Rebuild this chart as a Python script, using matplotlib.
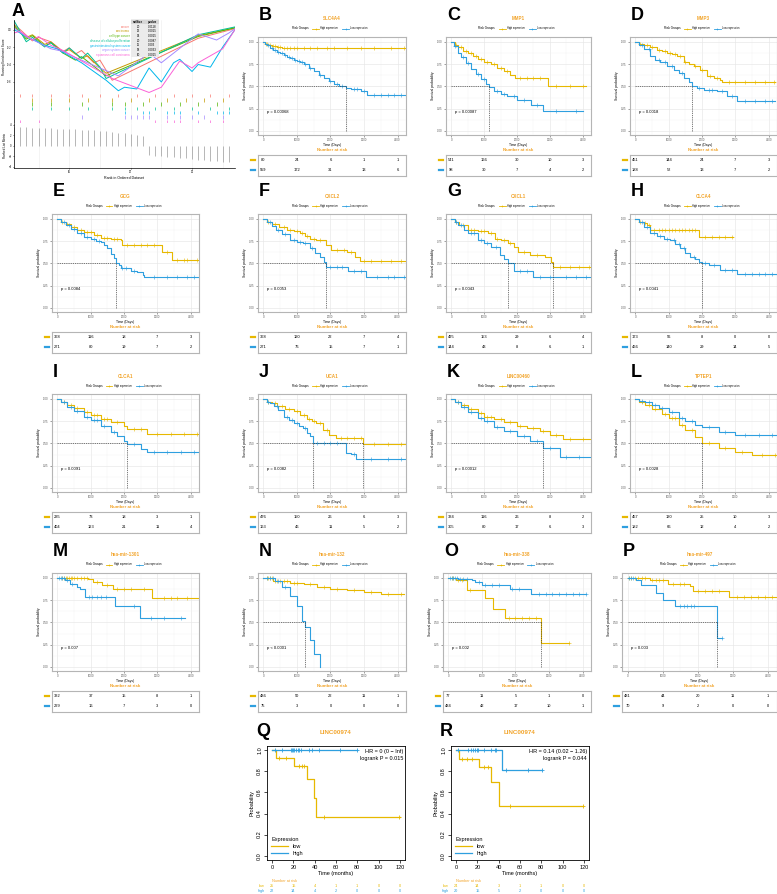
import numpy as np
import matplotlib
matplotlib.use('Agg')
import matplotlib.pyplot as plt
from matplotlib.lines import Line2D
from matplotlib.patches import Rectangle

plt.rcParams['font.family'] = ['Liberation Sans', 'DejaVu Sans']

W, H = 777, 894
HI_COL = '#E7B800'
LO_COL = '#2E9FDF'
TITLE_COL = '#F2A42A'
RISK_T = [0, 1000, 2000, 3000, 4000]

# ---------------- panel A data (GSEA) ----------------
SET_NAMES = ['cancer', 'carcinoma', 'cell type cancer', 'disease of cellular proliferation',
             'gastrointestinal system cancer', 'organ system cancer', 'squamous cell carcinoma']
SET_COLORS = ['#F8766D', '#C49A00', '#53B400', '#00C094', '#00B6EB', '#A58AFF', '#FB61D7']
SET_SIZE = [20, 13, 14, 20, 11, 18, 10]
SET_PVAL = ['0.0118', '0.0015', '0.0015', '0.0087', '0.003', '0.0033', '0.0015']

ES_RANK = [
    [1, 2, 4, 5, 7, 9, 10, 11, 12, 14, 15, 17, 31, 37],
    [1, 3, 4, 6, 7, 9, 10, 12, 13, 15, 16, 31, 37],
    [1, 3, 4, 6, 7, 9, 11, 12, 14, 16, 31, 37],
    [1, 3, 4, 6, 7, 9, 10, 12, 13, 15, 16, 31, 37],
    [1, 3, 6, 8, 10, 12, 14, 16, 18, 19, 21, 23, 25, 27, 28, 30, 31, 33, 35, 37],
    [1, 3, 5, 7, 9, 11, 13, 15, 18, 23, 25, 31, 34, 36, 37],
    [1, 2, 4, 5, 7, 9, 11, 13, 15, 17, 20, 23, 25, 28, 30, 31, 33, 35, 37],
]
ES_VAL = [
    [0.06, 0.0, -0.13, -0.09, -0.14, -0.25, -0.21, -0.28, -0.24, -0.38, -0.35, -0.58, -0.10, 0.01],
    [0.03, -0.09, -0.06, -0.17, -0.14, -0.26, -0.23, -0.33, -0.30, -0.44, -0.50, -0.07, 0.02],
    [0.05, -0.11, -0.07, -0.19, -0.15, -0.27, -0.35, -0.31, -0.42, -0.53, -0.08, 0.02],
    [0.10, -0.14, -0.09, -0.20, -0.15, -0.27, -0.21, -0.33, -0.27, -0.43, -0.56, -0.06, 0.03],
    [0.0, -0.08, -0.18, -0.22, -0.30, -0.38, -0.48, -0.58, -0.70, -0.66, -0.68, -0.44, -0.60,
     -0.38, -0.34, -0.48, -0.40, -0.43, -0.20, 0.0],
    [0.02, -0.08, -0.15, -0.22, -0.25, -0.32, -0.38, -0.44, -0.53, -0.27, -0.38, -0.05, -0.12, -0.04, 0.01],
    [-0.04, -0.02, -0.12, -0.08, -0.18, -0.24, -0.32, -0.40, -0.48, -0.56, -0.64, -0.72, -0.66,
     -0.36, -0.44, -0.38, -0.30, -0.22, 0.0],
]
HITS = [
    [2, 4, 7, 10, 12, 15, 18, 21, 24, 27, 30, 33, 36],
    [4, 7, 10, 13, 17, 20, 23, 26, 29, 32, 35],
    [4, 7, 12, 17, 19, 22, 25, 28, 31, 34, 37],
    [4, 7, 10, 13, 17, 19, 21, 24, 27, 30, 33, 36],
    [19, 22, 23, 26, 27, 28, 31, 34, 35, 36],
    [12, 19, 20, 21, 22, 23, 26, 28, 30, 32, 35, 37],
    [2, 5, 24, 26, 27, 28, 31, 33, 35, 37],
]
RANKS = list(range(1, 38))
RANK_METRIC = [3.6, 3.5, 3.5, 3.4, 3.4, 3.3, 3.3, 3.2, 3.2, 3.1, 3.1, 3.0, 3.0, 2.9, 2.8, 2.7,
               2.6, 2.5, 2.4, 2.3, 2.1, 1.9, -1.8, -1.9, -2.0, -2.1, -2.2, -2.3, -2.4, -2.5,
               -2.6, -2.7, -2.8, -2.9, -3.0, -3.1, -3.2]

# ---------------- KM panels data ----------------
B_HI_T = [0, 60, 150, 250, 400, 550, 4300]
B_HI_S = [1.0, 0.98, 0.965, 0.955, 0.945, 0.935, 0.935]
B_HI_C = [80, 120, 200, 300, 350, 450, 500, 600, 700, 800, 900, 1000, 1200, 1400, 1600, 1900,
          2100, 2500, 2900, 3300, 3800, 4200]
B_LO_T = [0, 50, 120, 200, 300, 400, 500, 600, 700, 800, 900, 1000, 1100, 1200, 1350, 1500,
          1650, 1800, 1950, 2100, 2250, 2450, 2600, 2900, 3100, 4300]
B_LO_S = [1.0, 0.98, 0.96, 0.935, 0.91, 0.89, 0.87, 0.85, 0.83, 0.815, 0.80, 0.785, 0.77, 0.75,
          0.71, 0.67, 0.63, 0.59, 0.56, 0.53, 0.51, 0.48, 0.47, 0.45, 0.40, 0.40]
B_LO_C = [150, 250, 350, 450, 550, 650, 750, 850, 950, 1050, 1150, 1250, 1400, 1700, 2000, 2200,
          2350, 2700, 2800, 3000, 3300, 3500, 3700, 3900, 4100]

C_HI_T = [0, 100, 200, 350, 500, 650, 800, 1000, 1200, 1400, 1600, 1800, 1950, 2950, 4100]
C_HI_S = [1.0, 0.97, 0.94, 0.90, 0.87, 0.84, 0.81, 0.78, 0.75, 0.71, 0.67, 0.63, 0.60, 0.51, 0.51]
C_HI_C = [150, 300, 450, 600, 750, 900, 1100, 1300, 1500, 1700, 2100, 2300, 2500, 2700, 3200, 3600, 4000]
C_LO_T = [0, 80, 200, 300, 450, 600, 750, 900, 1050, 1150, 1300, 1500, 1700, 2000, 2420, 2780, 4000]
C_LO_S = [1.0, 0.95, 0.88, 0.83, 0.76, 0.70, 0.64, 0.58, 0.53, 0.49, 0.45, 0.42, 0.39, 0.35,
          0.29, 0.22, 0.22]
C_LO_C = [120, 350, 500, 800, 1000, 1400, 1600, 1900, 2200, 2600, 3200, 3800]

D_HI_T = [0, 100, 250, 450, 650, 800, 950, 1100, 1250, 1450, 1600, 1750, 1950, 2150, 2350, 2550, 2600, 4200]
D_HI_S = [1.0, 0.975, 0.96, 0.94, 0.91, 0.895, 0.88, 0.86, 0.84, 0.78, 0.755, 0.73, 0.68, 0.62,
          0.59, 0.57, 0.55, 0.55]
D_HI_C = [150, 350, 500, 700, 900, 1050, 1200, 1350, 1500, 1800, 2000, 2250, 2450, 2800, 3000,
          3300, 3600, 3900, 4150]
D_LO_T = [0, 100, 250, 450, 600, 750, 950, 1150, 1300, 1450, 1600, 1700, 1850, 2050, 2450, 2750, 3050, 4200]
D_LO_S = [1.0, 0.96, 0.92, 0.84, 0.80, 0.77, 0.73, 0.69, 0.65, 0.60, 0.55, 0.50, 0.48, 0.46,
          0.45, 0.39, 0.34, 0.34]
D_LO_C = [200, 400, 700, 900, 1100, 1400, 1900, 2200, 2300, 2600, 2900, 3300, 3600, 3900, 4100]

E_HI_T = [0, 100, 250, 400, 590, 800, 1100, 1300, 1600, 1900, 1950, 3130, 3430, 4300]
E_HI_S = [1.0, 0.97, 0.94, 0.91, 0.88, 0.85, 0.82, 0.79, 0.78, 0.76, 0.71, 0.63, 0.54, 0.54]
E_HI_C = [150, 300, 500, 700, 900, 1000, 1200, 1400, 1500, 1700, 1800, 2100, 2300, 2500, 2700,
          2900, 3300, 3600, 3800, 3900, 4200]
E_LO_T = [0, 100, 250, 400, 590, 800, 1000, 1150, 1300, 1400, 1500, 1600, 1700, 1750, 1850,
          1900, 2200, 2400, 2570, 2600, 4300]
E_LO_S = [1.0, 0.97, 0.93, 0.89, 0.84, 0.80, 0.77, 0.755, 0.74, 0.71, 0.67, 0.61, 0.56, 0.50,
          0.48, 0.45, 0.42, 0.40, 0.37, 0.35, 0.35]
E_LO_C = [200, 350, 500, 700, 900, 1100, 1250, 1950, 2050, 2300, 2900, 3300, 3600, 3900, 4100]

F_HI_T = [0, 100, 250, 480, 700, 900, 1080, 1250, 1380, 1580, 1880, 2030, 2480, 2730, 2880, 4300]
F_HI_S = [1.0, 0.97, 0.94, 0.91, 0.88, 0.86, 0.84, 0.81, 0.78, 0.76, 0.71, 0.65, 0.63, 0.575, 0.53, 0.53]
F_HI_C = [150, 350, 600, 800, 1000, 1150, 1300, 1500, 1700, 2200, 2400, 2600, 3000, 3200, 3500, 3800, 4100]
F_LO_T = [0, 100, 250, 380, 550, 780, 1000, 1180, 1380, 1550, 1680, 1800, 1880, 2530, 3060, 4300]
F_LO_S = [1.0, 0.96, 0.92, 0.88, 0.83, 0.76, 0.745, 0.73, 0.67, 0.62, 0.575, 0.52, 0.46, 0.42, 0.35, 0.35]
F_LO_C = [200, 450, 650, 900, 1100, 1250, 1450, 2000, 2200, 2350, 2700, 2900, 3400, 3700, 3900, 4200]

G_HI_T = [0, 100, 250, 520, 800, 1120, 1320, 1500, 1720, 1900, 2040, 2400, 2840, 3040, 3080, 4260]
G_HI_S = [1.0, 0.97, 0.93, 0.88, 0.86, 0.84, 0.78, 0.76, 0.73, 0.68, 0.63, 0.60, 0.57, 0.52, 0.455, 0.455]
G_HI_C = [150, 350, 600, 700, 900, 1000, 1200, 1400, 1600, 1800, 2200, 2600, 3300, 3600, 3900, 4200]
G_LO_T = [0, 100, 220, 400, 520, 820, 1000, 1220, 1470, 1600, 1720, 1920, 2490, 4260]
G_LO_S = [1.0, 0.96, 0.93, 0.88, 0.84, 0.76, 0.73, 0.69, 0.59, 0.55, 0.50, 0.42, 0.35, 0.35]
G_LO_C = [150, 300, 600, 700, 900, 1100, 1350, 2100, 2300, 2700, 3000, 3500, 3800, 4100]

H_HI_T = [0, 100, 250, 350, 450, 650, 1900, 2930]
H_HI_S = [1.0, 0.97, 0.95, 0.93, 0.88, 0.87, 0.80, 0.80]
H_HI_C = [150, 300, 400, 550, 700, 800, 900, 1000, 1100, 1200, 1300, 1400, 1500, 1600, 1700,
          1800, 2100, 2300, 2500, 2700, 2900]
H_LO_T = [0, 100, 250, 450, 650, 850, 1050, 1200, 1350, 1500, 1650, 1800, 1900, 2000, 2200,
          2550, 3050, 4300]
H_LO_S = [1.0, 0.96, 0.91, 0.84, 0.81, 0.78, 0.76, 0.72, 0.67, 0.62, 0.575, 0.545, 0.52, 0.50,
          0.48, 0.43, 0.38, 0.38]
H_LO_C = [200, 350, 550, 750, 950, 1150, 1300, 1450, 1750, 2100, 2350, 2700, 2900, 3300, 3500,
          3700, 3900, 4100]

I_HI_T = [0, 100, 300, 500, 800, 1000, 1300, 1600, 2000, 2100, 2700, 4300]
I_HI_S = [1.0, 0.97, 0.93, 0.90, 0.85, 0.82, 0.78, 0.74, 0.70, 0.66, 0.61, 0.61]
I_HI_C = [200, 400, 600, 900, 1100, 1200, 1400, 1500, 1800, 2300, 2500, 3000, 3400, 3800, 4200]
I_LO_T = [0, 100, 300, 500, 800, 1000, 1300, 1600, 1800, 2000, 2100, 2500, 2700, 4300]
I_LO_S = [1.0, 0.96, 0.91, 0.86, 0.80, 0.76, 0.70, 0.63, 0.58, 0.53, 0.49, 0.44, 0.40, 0.40]
I_LO_C = [200, 400, 600, 900, 1100, 1200, 1400, 1700, 2300, 2900, 3300, 3700, 4100]

J_HI_T = [0, 100, 250, 420, 650, 900, 1100, 1290, 1450, 1580, 1780, 1970, 2160, 2960, 4300]
J_HI_S = [1.0, 0.97, 0.95, 0.92, 0.89, 0.86, 0.82, 0.78, 0.755, 0.73, 0.65, 0.60, 0.56, 0.495, 0.495]
J_HI_C = [150, 350, 550, 750, 1000, 1200, 1350, 1500, 1700, 1900, 2300, 2500, 2700, 2900, 3300,
          3700, 4100]
J_LO_T = [0, 100, 200, 320, 450, 610, 750, 900, 1050, 1190, 1300, 1390, 1470, 2460, 2600, 2770, 4300]
J_LO_S = [1.0, 0.97, 0.95, 0.92, 0.87, 0.80, 0.76, 0.73, 0.70, 0.67, 0.62, 0.58, 0.50, 0.39,
          0.38, 0.32, 0.32]
J_LO_C = [150, 400, 700, 850, 1000, 1250, 1600, 1800, 2000, 2200, 2700, 3200, 3700, 4100]

K_HI_T = [0, 100, 300, 500, 800, 1000, 1300, 1600, 2000, 2300, 2700, 3000, 3400, 4300]
K_HI_S = [1.0, 0.97, 0.93, 0.89, 0.84, 0.80, 0.77, 0.74, 0.70, 0.67, 0.64, 0.60, 0.55, 0.55]
K_HI_C = [200, 400, 600, 900, 1100, 1200, 1500, 1800, 2100, 2500, 2800, 3200, 3600, 4000]
K_LO_T = [0, 100, 300, 500, 800, 1000, 1300, 1600, 2000, 2400, 2800, 3300, 4300]
K_LO_S = [1.0, 0.96, 0.91, 0.85, 0.79, 0.75, 0.69, 0.64, 0.58, 0.53, 0.45, 0.35, 0.35]
K_LO_C = [200, 400, 600, 900, 1100, 1400, 1800, 2200, 2600, 3000, 3500, 3900]

L_HI_T = [0, 100, 300, 500, 800, 1000, 1300, 1500, 1800, 2000, 2500, 3000, 3500, 4300]
L_HI_S = [1.0, 0.97, 0.93, 0.89, 0.83, 0.79, 0.71, 0.65, 0.57, 0.50, 0.45, 0.40, 0.37, 0.37]
L_HI_C = [200, 400, 600, 900, 1100, 1200, 1400, 1700, 2200, 2700, 3200, 3800, 4200]
L_LO_T = [0, 100, 300, 500, 700, 1000, 1300, 1500, 1800, 2000, 2500, 3000, 4300]
L_LO_S = [1.0, 0.98, 0.96, 0.93, 0.90, 0.85, 0.79, 0.75, 0.71, 0.68, 0.63, 0.60, 0.60]
L_LO_C = [200, 400, 600, 800, 1100, 1400, 1700, 2200, 2700, 3300, 3700, 4100]

M_HI_T = [0, 930, 1080, 1330, 1680, 2830, 4300]
M_HI_S = [1.0, 0.99, 0.955, 0.925, 0.87, 0.78, 0.78]
M_HI_C = [150, 200, 250, 300, 350, 400, 450, 500, 600, 700, 800, 900, 1200, 1500, 1800, 2000,
          2200, 2600, 3200, 3400, 3600, 3900]
M_LO_T = [0, 230, 380, 580, 680, 830, 1730, 2480, 3830]
M_LO_S = [1.0, 0.975, 0.935, 0.90, 0.88, 0.79, 0.69, 0.555, 0.555]
M_LO_C = [50, 100, 150, 200, 300, 450, 950, 1050, 1200, 1300, 1450, 2300, 2800, 3200, 3700]

N_HI_T = [0, 300, 800, 1200, 1600, 2000, 2500, 3000, 3500, 4200]
N_HI_S = [1.0, 0.97, 0.94, 0.93, 0.90, 0.88, 0.86, 0.84, 0.82, 0.82]
N_HI_C = [100, 150, 200, 250, 350, 400, 500, 600, 700, 900, 1000, 1400, 1800, 2200, 2700, 3200,
          3700, 4100]
N_LO_T = [0, 350, 550, 800, 1000, 1150, 1250, 1400, 1500, 1700]
N_LO_S = [1.0, 0.96, 0.90, 0.80, 0.68, 0.52, 0.45, 0.30, 0.15, 0.0]
N_LO_C = [100, 200, 300, 450, 650]

O_HI_T = [0, 220, 560, 1100, 1340, 1690, 2760, 3600]
O_HI_S = [1.0, 0.975, 0.86, 0.77, 0.655, 0.555, 0.27, 0.27]
O_HI_C = [100, 150, 300, 400, 650, 1800, 2000, 2200, 2400, 2600, 3600]
O_LO_T = [0, 300, 700, 800, 1000, 1830, 2470, 4100]
O_LO_S = [1.0, 0.99, 0.98, 0.955, 0.925, 0.87, 0.82, 0.82]
O_LO_C = [50, 100, 150, 200, 250, 350, 450, 550, 900, 1100, 1300, 1500, 1900, 2100, 2700, 2900,
          3100, 3300, 3500, 3700, 3900, 4100]

P_HI_T = [0, 640, 1150, 1770, 1870, 2890, 4270]
P_HI_S = [1.0, 0.98, 0.935, 0.905, 0.85, 0.785, 0.785]
P_HI_C = [50, 100, 200, 300, 400, 500, 700, 800, 900, 1000, 1300, 1500, 1600, 2000, 2200, 2400,
          2600, 3100, 3300, 3500, 3700, 3900, 4100]
P_LO_T = [0, 230, 390, 800, 1000, 1360, 2530, 2680]
P_LO_S = [1.0, 0.975, 0.915, 0.83, 0.75, 0.685, 0.325, 0.325]
P_LO_C = [50, 100, 150, 1500, 1600, 1700, 1800, 1900, 2680]

RISK_B = ([80, 24, 6, 1, 1], [559, 172, 31, 13, 6])
RISK_C = ([541, 166, 30, 10, 3], [98, 30, 7, 4, 2])
RISK_D = ([451, 144, 24, 7, 3], [188, 52, 13, 7, 2])
RISK_E = ([368, 116, 18, 7, 3], [271, 80, 19, 7, 2])
RISK_F = ([368, 120, 22, 7, 4], [271, 76, 15, 7, 1])
RISK_G = ([495, 153, 29, 6, 4], [144, 43, 8, 6, 1])
RISK_H = ([173, 56, 8, 0, 0], [466, 140, 29, 14, 5])
RISK_I = ([235, 73, 18, 3, 1], [404, 123, 21, 11, 4])
RISK_J = ([476, 150, 26, 6, 3], [163, 46, 11, 5, 2])
RISK_K = ([334, 116, 26, 8, 2], [305, 80, 17, 6, 3])
RISK_L = ([457, 130, 25, 10, 3], [182, 66, 12, 4, 2])
RISK_M = ([332, 37, 15, 8, 1], [229, 16, 7, 3, 0])
RISK_N = ([486, 50, 22, 11, 1], [75, 3, 0, 0, 0])
RISK_O = ([77, 11, 5, 1, 0], [484, 42, 17, 10, 1])
RISK_P = ([481, 44, 20, 11, 1], [70, 9, 2, 0, 0])

# ---------------- Q / R data ----------------
QR_T = [0, 20, 40, 60, 80, 100, 120]
Q_LOW_T = [0, 3.5, 21, 33, 39.5, 41.5, 120]
Q_LOW_S = [1.0, 0.923, 0.852, 0.727, 0.545, 0.364, 0.364]
Q_LOW_C = [6.2, 13.2, 25.5, 27.7, 29.5, 48.6, 119]
Q_HIGH_T = [0, 79.5]
Q_HIGH_S = [1.0, 1.0]
Q_HIGH_C = [2.5, 9.5, 17.8, 18.8, 20, 21, 22.5, 24, 25.5, 27, 34.8, 37, 44, 64, 79.4]
Q_RISK_LOW = [25, 15, 4, 1, 1, 0, 0]
Q_RISK_HIGH = [22, 14, 4, 2, 0, 0, 0]

R_LOW_T = [0, 2.5, 21.6, 32.7, 40, 119]
R_LOW_S = [1.0, 0.917, 0.840, 0.70, 0.467, 0.467]
R_LOW_C = [5.7, 10.5, 15.2, 26.3, 29.5, 50.2, 119]
R_HIGH_T = [0, 42.9, 80.3]
R_HIGH_S = [1.0, 0.81, 0.81]
R_HIGH_C = [1.9, 11.4, 13.7, 15.9, 17.8, 19.4, 20.6, 26.3, 32.7, 36.5, 37.8, 47, 67.6, 80.3]
R_RISK_LOW = [24, 14, 3, 1, 1, 0, 0]
R_RISK_HIGH = [20, 15, 5, 2, 0, 0, 0]

fig = plt.figure(figsize=(W / 100, H / 100), dpi=100)


def px_axes(x0, y0, w, h):
    return fig.add_axes([x0 / W, 1 - (y0 + h) / H, w / W, h / H])


def ftext(x, y, s, **kw):
    return fig.text(x / W, 1 - y / H, s, **kw)


def fline(xs, ys, **kw):
    fig.add_artist(Line2D([x / W for x in xs], [1 - y / H for y in ys],
                          transform=fig.transFigure, **kw))


def surv_at(tl, sl, c):
    idx = np.searchsorted(tl, c, side='right') - 1
    return np.asarray(sl)[idx]


def median_time(tl, sl):
    for t, s in zip(tl, sl):
        if s <= 0.5:
            return t
    return None


# ---------------- panel A ----------------
ftext(12, 11, 'A', fontsize=13, fontweight='bold', ha='left', va='center')
a_top = px_axes(14, 20, 221, 73)
a_hit = px_axes(14, 93, 221, 30)
a_rank = px_axes(14, 123, 221, 45)
for ax in (a_top, a_hit, a_rank):
    ax.set_xlim(1, 37)
    for s in ('top', 'right'):
        ax.spines[s].set_visible(False)
    ax.spines['left'].set_linewidth(0.5)
    ax.set_xticks([5, 10, 15, 20, 25, 30, 35])
    ax.grid(True, axis='x', color='#EDEDED', lw=0.4)
    ax.tick_params(labelsize=1.9, length=1.0, width=0.4, pad=0.6)

for r, v, c in zip(ES_RANK, ES_VAL, SET_COLORS):
    a_top.plot(r, v, color=c, lw=0.7)
a_top.set_ylim(-0.726, 0.109)
a_top.set_yticks([-0.6, -0.4, -0.2, 0.0])
a_top.set_yticklabels(['-0.6', '-0.4', '-0.2', '0.0'])
a_top.spines['bottom'].set_visible(False)
a_top.tick_params(axis='x', length=0, labelbottom=False)
a_top.set_ylabel('Running Enrichment Score', fontsize=2.2, labelpad=0.6)

for i, (hits, c) in enumerate(zip(HITS, SET_COLORS)):
    a_hit.vlines(hits, 6.8 - i, 6.0 - i, color=c, lw=0.5)
a_hit.set_ylim(0, 7)
a_hit.set_yticks([])
a_hit.spines['bottom'].set_visible(False)
a_hit.tick_params(axis='x', length=0, labelbottom=False)

a_rank.vlines(RANKS, 0, RANK_METRIC, color='#9A9A9A', lw=0.5)
a_rank.set_ylim(-4.2, 4.3)
a_rank.set_yticks([-4, -2, 0, 2, 4])
a_rank.spines['bottom'].set_linewidth(0.5)
a_rank.set_xticks([10, 20, 30])
a_rank.set_xticks([5, 15, 25, 35], minor=True)
a_rank.tick_params(which='minor', length=0)
a_rank.grid(True, axis='x', which='both', color='#EDEDED', lw=0.4)
a_rank.set_ylabel('Ranked List Metric', fontsize=2.2, labelpad=1.2)
a_rank.set_xlabel('Rank in Ordered Dataset', fontsize=2.6, labelpad=1)

# A table
tab_x0, tab_x1 = 131, 159
row_h = 4.7
fig.add_artist(Rectangle((tab_x0 / W, 1 - (19.5 + 8 * row_h) / H), (tab_x1 - tab_x0) / W,
                         8 * row_h / H, transform=fig.transFigure, facecolor='#EBEBEB',
                         edgecolor='none'))
fig.add_artist(Rectangle((tab_x0 / W, 1 - (19.5 + row_h) / H), (tab_x1 - tab_x0) / W,
                         row_h / H, transform=fig.transFigure, facecolor='#D6D6D6',
                         edgecolor='none'))
ftext(138, 22, 'setSize', fontsize=2.1, fontweight='bold', ha='center', va='center')
ftext(152, 22, 'pvalue', fontsize=2.1, fontweight='bold', ha='center', va='center')
for i, (nm, c, sz, pv) in enumerate(zip(SET_NAMES, SET_COLORS, SET_SIZE, SET_PVAL)):
    yy = 22 + (i + 1) * row_h
    ftext(130, yy, nm, fontsize=2.1, color=c, ha='right', va='center')
    ftext(138, yy, str(sz), fontsize=2.1, ha='center', va='center')
    ftext(152, yy, pv, fontsize=2.1, ha='center', va='center')

# ---------------- KM panels ----------------
COL_X = [52, 258, 446, 630]
COL_W = [147, 148, 145, 147]
ROW_Y = [3, 180, 360, 539]


def km_panel(col, row, letter, title, hi, lo, pval, risk, dx=0):
    x0 = COL_X[col] + dx
    w = COL_W[col] - dx
    top = ROW_Y[row]
    cx = x0 + w / 2
    ftext(x0 + 1, top + 12, letter, fontsize=13, fontweight='bold', ha='left', va='center')
    ftext(cx, top + 16, title, color=TITLE_COL, fontsize=3.3, fontweight='bold',
          ha='center', va='center')
    ly = top + 25.5
    ftext(cx - 40, ly, 'Risk Groups', fontsize=2.2, ha='left', va='center')
    for lx, col_, lab in ((cx - 20, HI_COL, 'High expression'), (cx + 10, LO_COL, 'Low expression')):
        fline([lx, lx + 7], [ly, ly], color=col_, lw=0.6)
        fline([lx + 3.5], [ly], color=col_, marker='+', ms=2, mew=0.4, lw=0)
        ftext(lx + 8.5, ly, lab, fontsize=1.8, ha='left', va='center')

    ax = px_axes(x0, top + 34, w, 98)
    ax.set_xlim(-160, 4250)
    ax.set_ylim(-0.045, 1.055)
    ax.set_xticks([0, 1000, 2000, 3000, 4000])
    ax.set_yticks([0, 0.25, 0.5, 0.75, 1.0])
    ax.set_yticklabels(['0.00', '0.25', '0.50', '0.75', '1.00'])
    ax.set_xticks([500, 1500, 2500, 3500], minor=True)
    ax.set_yticks([0.125, 0.375, 0.625, 0.875], minor=True)
    ax.grid(True, which='major', color='#E6E6E6', lw=0.45)
    ax.grid(True, which='minor', color='#F2F2F2', lw=0.3)
    ax.set_axisbelow(True)
    ax.tick_params(labelsize=2, length=1.2, width=0.4, colors='#555555', pad=1.2)
    ax.tick_params(which='minor', length=0)
    for s in ax.spines.values():
        s.set_color('#B5B5B5')
        s.set_linewidth(0.8)
    ax.set_xlabel('Time (Days)', fontsize=2.4, labelpad=0.6)
    ax.set_ylabel('Survival probability', fontsize=2.4, labelpad=1.5)

    meds = []
    for (tl, sl, cl), colr in ((hi, HI_COL), (lo, LO_COL)):
        ax.step(tl, sl, where='post', color=colr, lw=0.8)
        ax.plot(cl, surv_at(tl, sl, cl), ls='none', marker='+', ms=2.2, mew=0.4, color=colr)
        m = median_time(tl, sl)
        if m is not None:
            meds.append(m)
    if meds:
        ax.plot([0, max(meds)], [0.5, 0.5], ls=(0, (2, 1.5)), color='#333333', lw=0.45)
        for m in meds:
            ax.plot([m, m], [0, 0.5], ls=(0, (2, 1.5)), color='#333333', lw=0.45)
    ax.text(100, 0.21, pval, fontsize=3, ha='left', va='center')

    ftext(cx, top + 147, 'Number at risk', color=TITLE_COL, fontsize=3.2, fontweight='bold',
          ha='center', va='center')
    rt = px_axes(x0, top + 152, w, 21)
    rt.set_xlim(ax.get_xlim())
    rt.set_ylim(0, 2)
    rt.set_xticks([])
    rt.set_yticks([])
    for s in rt.spines.values():
        s.set_color('#B5B5B5')
        s.set_linewidth(0.8)
    for i, (vals, colr) in enumerate(zip(risk, (HI_COL, LO_COL))):
        yv = 1.48 - i * 0.95
        for t, v in zip(RISK_T, vals):
            rt.text(t, yv, str(v), fontsize=2.9, ha='center', va='center')
        rt.plot([-0.05, -0.02], [yv, yv], color=colr, lw=1.6,
                transform=rt.get_yaxis_transform(), clip_on=False)


km_panel(1, 0, 'B', 'SLC4A4', (B_HI_T, B_HI_S, B_HI_C), (B_LO_T, B_LO_S, B_LO_C), 'p = 0.00068', RISK_B)
km_panel(2, 0, 'C', 'MMP1', (C_HI_T, C_HI_S, C_HI_C), (C_LO_T, C_LO_S, C_LO_C), 'p = 0.00087', RISK_C)
km_panel(3, 0, 'D', 'MMP3', (D_HI_T, D_HI_S, D_HI_C), (D_LO_T, D_LO_S, D_LO_C), 'p = 0.0018', RISK_D)
km_panel(0, 1, 'E', 'GCG', (E_HI_T, E_HI_S, E_HI_C), (E_LO_T, E_LO_S, E_LO_C), 'p = 0.0084', RISK_E)
km_panel(1, 1, 'F', 'CXCL2', (F_HI_T, F_HI_S, F_HI_C), (F_LO_T, F_LO_S, F_LO_C), 'p = 0.0053', RISK_F)
km_panel(2, 1, 'G', 'CXCL1', (G_HI_T, G_HI_S, G_HI_C), (G_LO_T, G_LO_S, G_LO_C), 'p = 0.0043', RISK_G)
km_panel(3, 1, 'H', 'CLCA4', (H_HI_T, H_HI_S, H_HI_C), (H_LO_T, H_LO_S, H_LO_C), 'p = 0.0041', RISK_H)
km_panel(0, 2, 'I', 'CLCA1', (I_HI_T, I_HI_S, I_HI_C), (I_LO_T, I_LO_S, I_LO_C), 'p = 0.0091', RISK_I)
km_panel(1, 2, 'J', 'UCA1', (J_HI_T, J_HI_S, J_HI_C), (J_LO_T, J_LO_S, J_LO_C), 'p = 0.0082', RISK_J)
km_panel(2, 2, 'K', 'LINC00460', (K_HI_T, K_HI_S, K_HI_C), (K_LO_T, K_LO_S, K_LO_C), 'p = 0.00012', RISK_K)
km_panel(3, 2, 'L', 'TPTEP1', (L_HI_T, L_HI_S, L_HI_C), (L_LO_T, L_LO_S, L_LO_C), 'p = 0.0028', RISK_L)
km_panel(0, 3, 'M', 'hsa-mir-1301', (M_HI_T, M_HI_S, M_HI_C), (M_LO_T, M_LO_S, M_LO_C), 'p = 0.007', RISK_M)
km_panel(1, 3, 'N', 'hsa-mir-132', (N_HI_T, N_HI_S, N_HI_C), (N_LO_T, N_LO_S, N_LO_C), 'p < 0.0001', RISK_N)
km_panel(2, 3, 'O', 'hsa-mir-338', (O_HI_T, O_HI_S, O_HI_C), (O_LO_T, O_LO_S, O_LO_C), 'p = 0.002', RISK_O,
         dx=-3)
km_panel(3, 3, 'P', 'hsa-mir-497', (P_HI_T, P_HI_S, P_HI_C), (P_LO_T, P_LO_S, P_LO_C), 'p = 0.003', RISK_P,
         dx=-8)


# ---------------- Q / R ----------------
def qr_panel(x0, letter, low, high, hr_lines, risk_low, risk_high):
    ax = px_axes(x0, 746, 138, 114)
    ax.set_xlim(-4.8, 124.8)
    ax.set_ylim(-0.04, 1.04)
    for (tl, sl, cl), colr in ((low, HI_COL), (high, LO_COL)):
        ax.step(tl, sl, where='post', color=colr, lw=0.9)
        ax.plot(cl, surv_at(tl, sl, cl), ls='none', marker='+', ms=3, mew=0.6, color=colr)
    ax.set_xticks(QR_T)
    ax.set_yticks([0, 0.2, 0.4, 0.6, 0.8, 1.0])
    ax.set_yticklabels(['0.0', '0.2', '0.4', '0.6', '0.8', '1.0'], rotation=90, va='center')
    ax.tick_params(labelsize=4, length=2, width=0.5, pad=1.5)
    for s in ax.spines.values():
        s.set_linewidth(0.6)
    ax.set_xlabel('Time (months)', fontsize=4, labelpad=1)
    ax.set_ylabel('Probability', fontsize=4, labelpad=2)
    ax.text(0.985, 0.97, hr_lines, transform=ax.transAxes, fontsize=4, ha='right', va='top',
            linespacing=1.3)
    leg = ax.legend([Line2D([], [], color=HI_COL, lw=0.9), Line2D([], [], color=LO_COL, lw=0.9)],
                    ['low', 'high'], title='Expression', loc='lower left', frameon=False,
                    fontsize=4, title_fontsize=4, handlelength=3, borderaxespad=0.4,
                    labelspacing=0.3)
    leg._legend_box.align = 'left'
    tr = ax.get_xaxis_transform()
    ax.text(0, -0.184, 'Number at risk', transform=tr, fontsize=2.8, color=TITLE_COL,
            ha='left', va='center', clip_on=False)
    for lab, vals, colr, yv in (('low', risk_low, HI_COL, -0.228), ('high', risk_high, LO_COL, -0.272)):
        ax.text(-7, yv, lab, transform=tr, fontsize=2.8, color=colr, ha='right', va='center',
                clip_on=False)
        for t, v in zip(QR_T, vals):
            ax.text(t, yv, str(v), transform=tr, fontsize=2.8, color=colr, ha='center',
                    va='center', clip_on=False)
    ftext(x0 - 11, 732, letter, fontsize=13, fontweight='bold', ha='left', va='center')
    ftext(x0 + 69, 733, 'LINC00974', color=TITLE_COL, fontsize=4.5, fontweight='bold',
          ha='center', va='center')


qr_panel(267, 'Q', (Q_LOW_T, Q_LOW_S, Q_LOW_C), (Q_HIGH_T, Q_HIGH_S, Q_HIGH_C),
         'HR = 0 (0 \u2212 Inf)\nlogrank P = 0.015', Q_RISK_LOW, Q_RISK_HIGH)
qr_panel(451, 'R', (R_LOW_T, R_LOW_S, R_LOW_C), (R_HIGH_T, R_HIGH_S, R_HIGH_C),
         'HR = 0.14 (0.02 \u2212 1.26)\nlogrank P = 0.044', R_RISK_LOW, R_RISK_HIGH)

fig.savefig('out.png', dpi=100)
